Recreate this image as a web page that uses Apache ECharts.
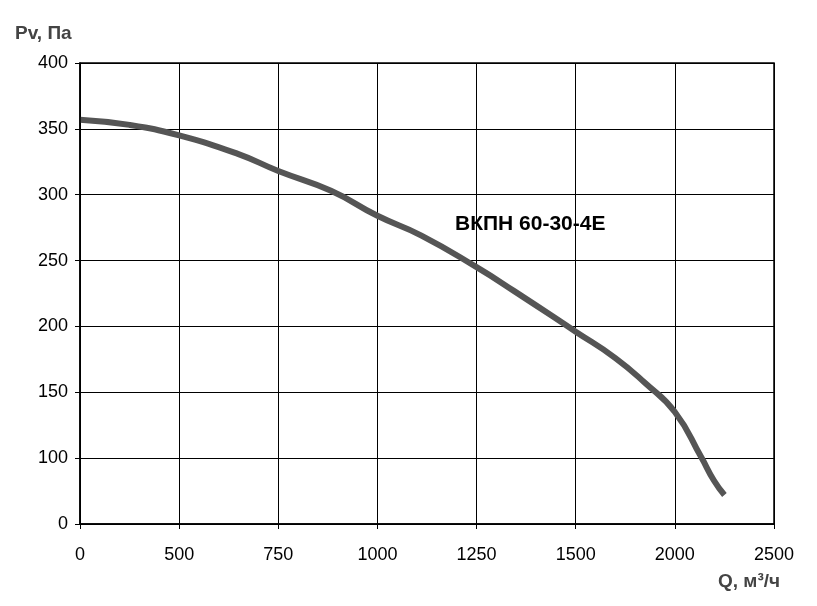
<!DOCTYPE html>
<html>
<head>
<meta charset="utf-8">
<script src="https://cdn.jsdelivr.net/npm/echarts@6/dist/echarts.min.js"></script>
<style>html,body{margin:0;padding:0;background:#fff}#c{width:817px;height:606px}</style>
</head>
<body>
<div id="c"></div>
<script>
// tick labels of the (unevenly labelled) axes
const xTicks = [0, 500, 750, 1000, 1250, 1500, 2000, 2500];
const yTicks = [0, 100, 150, 200, 250, 300, 350, 400];

// curve: Q, m3/h and Pv, Pa
const flow = [0, 250, 500, 648, 750, 883, 1000, 1111, 1250, 1344, 1500, 1700, 1850, 2000, 2132, 2197, 2250];
const pressure = [357, 353, 345, 331, 318, 303, 284, 269, 245, 227, 196, 176, 157, 135, 101, 83, 72];

// position of a Q value on the evenly spaced x grid
function xPos(q) {
    for (let i = 0; i < xTicks.length - 1; i++) {
        if (q <= xTicks[i + 1]) return i + (q - xTicks[i]) / (xTicks[i + 1] - xTicks[i]);
    }
    return xTicks.length - 1;
}

const font = 'Liberation Sans, Arial, sans-serif';
const chart = echarts.init(document.getElementById('c'));
chart.setOption({
    animation: false,
    grid: { left: 80, right: 43, top: 63, bottom: 82 },
    xAxis: {
        type: 'value', min: 0, max: 7, interval: 1,
        axisLine: { lineStyle: { color: '#000', width: 1.5 } },
        axisTick: { show: true, length: 5, lineStyle: { color: '#000' } },
        splitLine: { lineStyle: { color: '#000', width: 1 } },
        axisLabel: { color: '#000', fontFamily: font, fontSize: 18, margin: 22,
            formatter: v => xTicks[Math.round(v)] }
    },
    yAxis: {
        type: 'value', min: 50, max: 400, interval: 50,
        axisLine: { show: true, lineStyle: { color: '#000', width: 1.5 } },
        axisTick: { show: true, length: 5, lineStyle: { color: '#000' } },
        splitLine: { lineStyle: { color: '#000', width: 1 } },
        axisLabel: { color: '#000', fontFamily: font, fontSize: 18, margin: 12,
            formatter: v => v === 50 ? '0' : v }
    },
    graphic: [
        { type: 'rect', shape: { x: 80, y: 63, width: 694, height: 461 },
          style: { fill: 'none', stroke: '#000', lineWidth: 1.5 }, z: 10 },
        { type: 'text', left: 15, top: 24, style: { text: 'Pv, Па', font: 'bold 19px ' + font, fill: '#444' } },
        { type: 'text', left: 718, top: 572, style: { text: 'Q, м³/ч', font: 'bold 19px ' + font, fill: '#444' } },
        { type: 'text', left: 455, top: 214, style: { text: 'ВКПН 60-30-4Е', font: 'bold 21px ' + font, fill: '#000' } }
    ],
    series: [{
        type: 'line', smooth: true, symbol: 'none',
        lineStyle: { color: '#555', width: 6 },
        data: flow.map((q, i) => [xPos(q), pressure[i]])
    }]
});
</script>
</body>
</html>
